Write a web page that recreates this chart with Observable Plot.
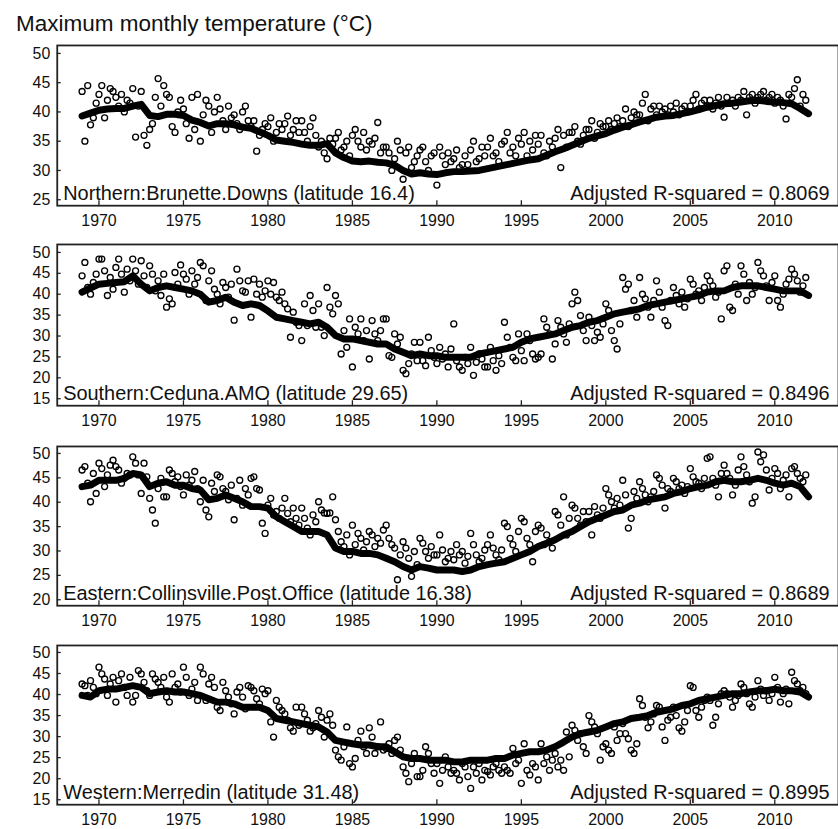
<!DOCTYPE html>
<html>
<head>
<meta charset="utf-8">
<script src="https://cdn.jsdelivr.net/npm/d3@7"></script>
<script src="https://cdn.jsdelivr.net/npm/@observablehq/plot@0.6"></script>
<style>
  html, body { margin: 0; padding: 0; background: #fff; overflow: hidden; }
  #title {
    font-family: "Liberation Sans", Arial, sans-serif;
    font-size: 22.5px; line-height: 22px; color: #111;
    height: 25px; padding: 13px 0 0 16px;
  }
  #charts svg { display: block; }
</style>
</head>
<body>
<div id="title">Maximum monthly temperature (°C)</div>
<div id="charts"></div>
<script>
// Monthly maximum temperature at four stations, 1969–2011.
// Observations are bi-monthly readings (6 per year, starting 1969.0);
// the fitted curve is sampled every half year from 1969.0 to 2012.0.
const startYear = 1969;
const obsPerYear = 6;
const fitStep = 0.5;

const stationNames = [
  "Northern:Brunette.Downs (latitude 16.4)",
  "Southern:Ceduna.AMO (latitude 29.65)",
  "Eastern:Collinsville.Post.Office (latitude 16.38)",
  "Western:Merredin (latitude 31.48)"
];
const adjustedR2 = ["0.8069", "0.8496", "0.8689", "0.8995"];

const xTicks = [1970, 1975, 1980, 1985, 1990, 1995, 2000, 2005, 2010];
const yTicksNorthern = [25, 30, 35, 40, 45, 50];
const yTicksSouthern = [15, 20, 25, 30, 35, 40, 45, 50];
const yTicksEastern = [20, 25, 30, 35, 40, 45, 50];
const yTicksWestern = [15, 20, 25, 30, 35, 40, 45, 50];

const northernObs = [
  43.5, 35, 44.5, 37.8, 39, 41.5,
  43, 44.5, 39, 42, 44, 43.5,
  42.5, 41, 43, 40, 42, 41.5,
  44, 35.7, 41, 43.5, 36, 34.3,
  37, 38, 42.5, 45.7, 41, 44.5,
  43, 42.5, 37.5, 36.5, 40, 42,
  40.5, 38, 35.5, 42.5, 37, 43,
  35, 39.5, 42, 41, 36.5, 40,
  42.5, 40.5, 38.5, 37, 41, 39,
  39.5, 38, 37, 40, 41, 38.5,
  37.5, 38.5, 33.3, 36, 37, 38,
  37.5, 39, 35, 36.5, 38, 37,
  38, 39.3, 36, 37, 38.5, 36.5,
  38.5, 36.5, 35, 37.5, 39, 36,
  34, 35, 33, 32, 35.5, 34.5,
  35.5, 36.5, 33.5, 34, 35, 32.5,
  36, 37, 35, 34, 36.5, 33.5,
  35, 34.5, 35.5, 38.2, 33, 34,
  34, 33, 30, 32, 35, 33.5,
  28.5, 33, 34, 30.5, 31.5, 32.5,
  33.5, 34, 31.5, 30, 32.5, 33,
  27.5, 34, 32.5, 31, 33, 31.5,
  32, 33.5, 30.5, 31, 32.5, 31,
  33.5, 35, 31.5, 32, 34, 32.5,
  34, 35.5, 32.5, 33, 31.5, 34.5,
  35, 36.5, 33, 34, 32.5, 35.5,
  34.5, 36.5, 32.5, 35, 33.5, 36,
  34.5, 36, 33, 32.5, 35, 34,
  35.5, 37, 30.5, 36, 34, 36.5,
  36.5, 37.5, 35, 34.5, 36, 37,
  37, 38.5, 35.5, 36.5, 38, 37.5,
  37.5, 38.5, 37, 38, 39, 37.5,
  38.5, 40.5, 37.5, 39, 40, 39.5,
  39.5, 41.5, 43, 38.5, 40.5, 41,
  39.5, 41, 40, 40.5, 39.5, 41,
  40, 41.5, 39.5, 40.5, 41, 40,
  41, 42, 43, 40.5, 41.5, 42,
  41, 42, 40.5, 41.5, 42.5, 41,
  39.1, 42.5, 41.5, 42, 41, 42.5,
  42, 43.5, 39.5, 42.5, 43, 41.5,
  42.5, 43, 43.5, 42, 42.5, 43,
  41.5, 42.5, 42, 41, 38.8, 43,
  42.5, 44, 45.5, 41, 43, 42
];
const northernFit = [
  39.3, 39.8, 40.3, 40.5, 40.6, 40.6, 41.0, 41.3, 39.4, 39.2,
  39.6, 39.6, 39.4, 38.6, 38.2, 37.6, 38.0, 38.0, 37.8, 37.4,
  37.2, 36.6, 36.0, 35.2, 35.0, 34.8, 34.5, 34.3, 34.3, 34.6,
  33.0, 32.2, 31.6, 31.5, 31.6, 31.4, 31.3, 30.9, 30.0, 29.4,
  29.6, 29.4, 29.3, 29.6, 29.8, 29.8, 29.9, 30.0, 30.3, 30.6,
  30.9, 31.2, 31.5, 31.8, 32.0, 32.6, 33.2, 33.7, 34.3, 34.9,
  35.5, 35.9, 36.3, 36.9, 37.4, 37.8, 38.3, 38.7, 39.1, 39.3,
  39.4, 39.7, 40.0, 40.4, 40.8, 41.1, 41.4, 41.5, 41.7, 41.9,
  42.0, 41.8, 41.7, 41.6, 41.4, 40.6, 39.7
];

const southernObs = [
  44.4, 47.6, 41.6, 40, 42.8, 44.8,
  48.4, 48.4, 45.6, 39.7, 44, 41.2,
  46.4, 48.4, 44.8, 40.5, 46, 43.2,
  48.4, 45.6, 42.4, 48, 44.4, 41.6,
  46.8, 44.8, 40.8, 43.2, 39.7, 44.8,
  36.9, 38.9, 37.7, 45.2, 42.4, 47,
  44.8, 43.6, 40, 45.6, 42.4, 44,
  47.6, 46.8, 38.5, 43.2, 45.6, 41.2,
  40, 37.7, 42.8, 41.6, 39.3, 42.4,
  33.8, 46, 43.2, 40.8, 40.5, 43.2,
  34.5, 43.6, 40, 42.4, 39.3, 40.8,
  43.2, 40, 42.8, 39.3, 38.5, 40.5,
  37.7, 36.5, 29.7, 35.7, 33.3, 32.5,
  28.9, 37.7, 32.5, 39.7, 36.1, 32.1,
  37.7, 32.1, 30.1, 41.6, 36.9, 35.3,
  39.7, 37.7, 25.7, 31.3, 27.3, 34.1,
  22.6, 32.1, 30.5, 34.1, 28.9, 31.3,
  24.5, 33.7, 30.5, 28.9, 31.3, 34.1,
  34.1, 25.3, 24.9, 30.5, 28.1, 29.7,
  21.8, 21, 23.4, 25.7, 28.5, 24.1,
  28.5, 24.1, 22.9, 29.7, 26.5, 24.9,
  23.4, 27.3, 24.5, 25.7, 22.6, 26.9,
  32.9, 24.1, 22.6, 21.8, 24.9, 23.4,
  27.3, 20.6, 23.7, 25.7, 24.5, 22.6,
  22.6, 27.3, 24.1, 21.8, 25.3, 23.4,
  33.3, 29.7, 27.3, 24.9, 24.1, 30.5,
  26.5, 24.1, 30.5, 28.9, 25.7, 24.5,
  24.9, 25.7, 34.1, 32.1, 30.5, 24.5,
  28.1, 33.7, 32.1, 30.5, 28.5, 32.9,
  37.7, 40.5, 38.5, 34.9, 31.3, 28.9,
  34.5, 32.5, 28.9, 30.9, 29.7, 32.9,
  37.7, 36.1, 31.3, 28.9, 26.9, 32.9,
  44, 41.2, 42.4, 36.1, 38.5, 34.5,
  44, 40, 38.9, 36.9, 34.5, 38.5,
  43.2, 40.5, 36.9, 33.7, 32.5, 38.5,
  41.6, 39.7, 37.7, 40.5, 36.9, 38.9,
  43.6, 42.4, 40, 40.8, 38.5, 41.6,
  44.4, 43.2, 42, 39.3, 40.5, 34.1,
  45.6, 46.8, 36.9, 36.1, 42.4, 40,
  46.8, 44.8, 38.5, 42.8, 40, 41.6,
  47.6, 45.6, 44.4, 42, 38.5, 42.8,
  44.4, 38.5, 36.9, 40, 42.4, 43.6,
  46, 44.8, 43.2, 40.5, 42, 44
];
const southernFit = [
  40.5, 41.5, 42.4, 42.6, 42.8, 43.0, 44.4, 42.4, 40.8, 41.6,
  42.0, 41.6, 41.2, 40.8, 40.0, 38.1, 38.5, 39.3, 38.1, 37.3,
  37.7, 37.3, 36.0, 34.5, 34.1, 33.7, 33.3, 32.9, 33.3, 32.1,
  30.1, 29.3, 29.3, 28.9, 28.5, 28.1, 28.1, 26.9, 26.1, 25.3,
  25.7, 25.3, 25.3, 24.9, 24.9, 24.9, 24.9, 25.7, 26.1, 26.5,
  26.9, 27.3, 28.5, 29.3, 29.7, 30.1, 30.5, 31.3, 32.1, 32.5,
  33.3, 33.7, 34.5, 35.3, 35.7, 36.1, 36.5, 37.3, 37.7, 38.1,
  38.5, 38.9, 39.3, 39.7, 40.5, 40.8, 40.8, 41.6, 42.0, 42.0,
  42.0, 41.6, 41.2, 40.8, 40.8, 40.8, 39.7
];

const easternObs = [
  46.6, 47.3, 43.9, 40.1, 45.9, 41.8,
  48, 46.9, 43.2, 45.6, 47.6, 48.6,
  47.3, 46.6, 43.9, 44.9, 45.9, 45.6,
  49.3, 48, 45.6, 41.8, 48, 45.2,
  40.8, 38.4, 35.7, 42.8, 44.9, 41.1,
  41.1, 46.6, 45.9, 44.2, 45.2, 43.2,
  41.5, 45.6, 43.5, 44.5, 46.3, 42.8,
  40.1, 44.5, 38.4, 37, 43.9, 42.2,
  45.6, 45.2, 42.8, 42.2, 40.5, 43.5,
  36.4, 40.8, 44.5, 39.4, 42.8, 41.5,
  44.9, 45.2, 42.8, 42.5, 35.7, 33.6,
  39.4, 40.8, 37.4, 38.1, 36.7, 38.8,
  40.8, 37.7, 36, 38.8, 36.7, 35.3,
  38.8, 36.7, 34.7, 33.3, 37.4, 36,
  40.1, 38.4, 37.8, 37.7, 37.8, 41.1,
  36.4, 34, 31.9, 30.9, 33.3, 29.2,
  35.3, 31.3, 33.6, 32.6, 30.2, 31.9,
  34, 33.3, 30.9, 32.6, 31.6, 34.3,
  35.3, 32.6, 31.3, 30.6, 24.1, 29.2,
  31.9, 30.6, 28.5, 24.8, 29.9, 27.2,
  32.6, 31.6, 29.9, 28.5, 30.9, 29.2,
  29.2, 33.3, 30.2, 27.8, 28.5, 29.9,
  28.2, 31.3, 29.2, 29.9, 27.5, 28.9,
  33.6, 31.3, 29.2, 27.8, 28.5, 30.2,
  31.3, 33.3, 30.6, 29.2, 28.2, 30.2,
  35.7, 35, 32.6, 31.3, 29.9, 34,
  36.7, 36, 32.6, 31.3, 27.8, 34,
  35.3, 34.7, 31.3, 33.3, 31.9, 30.6,
  38.1, 37.4, 35.3, 41.1, 33.3, 36.7,
  39.4, 38.8, 36.7, 35.3, 38.1, 36,
  38.1, 33.3, 39.1, 37.4, 36.7, 38.8,
  42.8, 41.5, 40.1, 38.8, 40.8, 39.4,
  44.5, 41.5, 34.7, 36.7, 42.2, 40.8,
  44.2, 42.8, 41.5, 40.1, 41.1, 42.2,
  45.6, 44.9, 43.5, 38.8, 42.8, 42.2,
  44.9, 44.2, 42.8, 43.5, 41.8, 43.2,
  46.9, 45.2, 44.2, 43.9, 42.8, 44.9,
  49, 49.3, 44.9, 43.5, 41.1, 45.9,
  47.6, 45.9, 44.9, 41.5, 43.5, 46.6,
  49.3, 47.3, 45.6, 44.2, 39.8, 41.1,
  50.3, 48.3, 49.7, 46.6, 42.5, 44.9,
  46.9, 45.9, 42.8, 44.5, 45.6, 41.1,
  46.9, 47.3, 45.9, 44.9, 44.2, 45.6
];
const easternFit = [
  43.2, 43.5, 44.5, 44.5, 44.5, 44.9, 45.9, 45.6, 43.2, 43.9,
  44.2, 43.5, 43.5, 42.8, 42.5, 40.5, 40.8, 41.5, 40.8, 40.1,
  39.1, 39.1, 38.8, 37.0, 36.0, 35.0, 34.0, 34.0, 34.0, 33.3,
  30.6, 29.9, 29.9, 29.5, 29.5, 29.2, 28.5, 27.8, 26.8, 26.1,
  26.8, 26.5, 26.1, 26.1, 26.1, 25.8, 26.1, 26.8, 27.2, 27.5,
  27.8, 28.5, 29.2, 29.9, 30.9, 31.6, 32.3, 33.3, 34.0, 35.0,
  36.0, 36.7, 37.4, 38.1, 38.4, 39.4, 39.8, 40.5, 40.8, 41.1,
  41.8, 42.2, 42.8, 43.2, 43.5, 44.2, 44.5, 44.2, 44.2, 44.5,
  44.9, 44.5, 43.9, 43.5, 43.9, 43.2, 41.1
];

const westernObs = [
  42.5, 42.1, 39.8, 43.3, 41.7, 40.2,
  46.5, 44.9, 43.7, 39.8, 42.5, 44.1,
  38.2, 43.3, 44.9, 41.7, 39.8, 44.1,
  38.2, 39.8, 45.7, 44.9, 42.9, 40.9,
  39.8, 44.9, 43.7, 42.9, 41.7, 44.1,
  39.4, 38.2, 44.9, 41.7, 42.5, 40.6,
  46.5, 44.1, 39.8, 41.3, 42.9, 38.6,
  46.5, 44.9, 38.6, 42.5, 44.1, 41.7,
  37, 36.2, 42.9, 40.9, 39.4, 37.8,
  35.4, 40.6, 41.7, 39.4, 36.6, 42.1,
  41.7, 40.9, 39, 37.8, 41.3, 40.2,
  40.9, 33.5, 29.9, 38.6, 37, 36.2,
  35.4, 33.9, 32.1, 31.3, 37, 32.7,
  37, 35.4, 33.9, 31.3, 32.1, 33.1,
  36.2, 34.6, 29.9, 33.9, 35.4, 32.7,
  26.8, 25.2, 24.4, 27.6, 32.3, 23.6,
  22.8, 24.8, 29.1, 31.3, 27.6, 26,
  32.1, 29.9, 26, 27.6, 33.5, 26.8,
  27.2, 28.3, 26, 29.1, 29.9, 26.8,
  22.8, 21.3, 19.3, 23.6, 26, 20.5,
  20.5, 22, 27.6, 26, 23.6, 21.3,
  23.6, 18.9, 22, 25.2, 22.8, 21.3,
  22, 21.3, 19.7, 23.6, 22.8, 20.5,
  17.7, 22.8, 21.3, 23.6, 19.7, 22,
  21.7, 20.9, 22.8, 23.6, 22, 21.3,
  22.8, 22, 21.3, 27.2, 23.6, 24.4,
  18.9, 28.3, 22, 20.9, 23.6, 22.8,
  19.7, 28.3, 23.6, 25.2, 22, 24.4,
  26, 22.8, 24.4, 22, 31.1, 25.2,
  32.7, 31.5, 29.1, 30.7, 27.6, 26,
  35, 33.5, 32.3, 30.7, 24.4, 27.6,
  28.3, 26.8, 26, 32.3, 29.1, 30.7,
  33.1, 30.7, 29.5, 26.8, 26, 28.3,
  39, 37.4, 34.6, 32.1, 33.5, 35.4,
  37.4, 37, 32.3, 29.1, 33.9, 34.6,
  37, 35, 32.1, 31.3, 33.5, 36.2,
  42.1, 41.7, 36.2, 34.6, 37, 38.6,
  39.4, 38.6, 32.7, 34.6, 37.8, 40.2,
  40.9, 40.2, 39.4, 37, 38.6, 39.8,
  42.5, 41.7, 40.2, 37.8, 37, 39.4,
  43.3, 41.3, 39.8, 40.9, 38.6, 40.2,
  44.1, 41.7, 38.2, 40.2, 41.3, 37.8,
  45.3, 43.3, 42.5, 40.9, 41.7, 40.2
];
const westernFit = [
  39.8, 39.4, 40.9, 41.3, 41.3, 41.7, 42.1, 41.7, 40.2, 40.6,
  40.9, 40.6, 40.6, 40.2, 39.8, 39.0, 38.2, 38.2, 37.8, 37.0,
  37.0, 37.0, 36.2, 34.3, 33.9, 33.5, 33.1, 32.7, 32.3, 31.1,
  29.1, 28.7, 28.3, 28.0, 28.0, 27.6, 27.6, 26.4, 25.2, 24.8,
  24.8, 24.4, 24.4, 24.4, 24.0, 24.0, 24.4, 24.4, 24.4, 24.8,
  24.8, 25.6, 26.0, 26.4, 26.4, 26.8, 27.6, 28.7, 29.9, 30.7,
  31.1, 31.5, 32.3, 33.1, 33.5, 34.3, 34.6, 35.0, 35.8, 36.2,
  36.6, 37.4, 37.8, 38.6, 39.0, 39.4, 39.8, 40.2, 40.2, 40.6,
  40.9, 40.9, 41.3, 40.9, 40.9, 40.6, 39.4
];

// Per-panel settings: value arrays, axis domains and vertical layout.
const panels = [
  {obs: northernObs, fit: northernFit, yTicks: yTicksNorthern, yDomain: [23.98, 51.36], height: 202, marginTop: 7, marginBottom: 34},
  {obs: southernObs, fit: southernFit, yTicks: yTicksSouthern, yDomain: [13.33, 51.9], height: 203, marginTop: 5, marginBottom: 36},
  {obs: easternObs, fit: easternFit, yTicks: yTicksEastern, yDomain: [18.78, 51.43], height: 200, marginTop: 5, marginBottom: 35},
  {obs: westernObs, fit: westernFit, yTicks: yTicksWestern, yDomain: [13.82, 51.66], height: 186, marginTop: 5, marginBottom: 21}
];

const width = 842;          // right edge of the frame falls just outside the page
const marginLeft = 57;
const xDomain = [1967.53, 2013.77];
const ink = "#111";
const font = '"Liberation Sans", Arial, Helvetica, sans-serif';

function panelChart(p, i) {
  const innerH = p.height - p.marginTop - p.marginBottom;
  const innerW = width - marginLeft;
  const obs = p.obs.map((v, k) => ({year: startYear + k / obsPerYear, temp: v}));
  const fit = p.fit.map((v, k) => ({year: startYear + k * fitStep, temp: v}));
  return Plot.plot({
    width, height: p.height,
    marginLeft, marginRight: 0, marginTop: p.marginTop, marginBottom: p.marginBottom,
    style: {fontFamily: font, fontSize: "16px", color: ink, background: "#fff", overflow: "visible"},
    x: {domain: xDomain, label: null},
    y: {domain: p.yDomain, label: null},
    marks: [
      Plot.line(fit, {x: "year", y: "temp", stroke: "#000", strokeWidth: 7, strokeLinejoin: "round", strokeLinecap: "round"}),
      Plot.dot(obs, {x: "year", y: "temp", r: 3, stroke: "#000", strokeWidth: 1.35, fill: "none"}),
      Plot.ruleX(xTicks, {stroke: "#222", strokeWidth: 1.3, insetTop: innerH - 5}),
      Plot.ruleY(p.yTicks, {stroke: "#222", strokeWidth: 1.3, insetRight: innerW - 4}),
      Plot.axisX(xTicks, {tickSize: 0, tickPadding: 9, tickFormat: d => String(d), fontSize: 16, label: null}),
      Plot.axisY(p.yTicks, {tickSize: 0, tickPadding: 7, fontSize: 16, label: null}),
      Plot.frame({stroke: "#222", strokeWidth: 1.8}),
      Plot.text([stationNames[i]], {text: d => d, frameAnchor: "bottom-left", textAnchor: "start", lineAnchor: "bottom", dx: 6, dy: -5.5, fontSize: 20, fill: ink}),
      Plot.text([`Adjusted R-squared = ${adjustedR2[i]}`], {text: d => d, frameAnchor: "bottom-right", textAnchor: "end", lineAnchor: "bottom", dx: -9, dy: -5.5, fontSize: 20, fill: ink})
    ]
  });
}

const host = document.getElementById("charts");
panels.forEach((p, i) => host.appendChild(panelChart(p, i)));
</script>
</body>
</html>
